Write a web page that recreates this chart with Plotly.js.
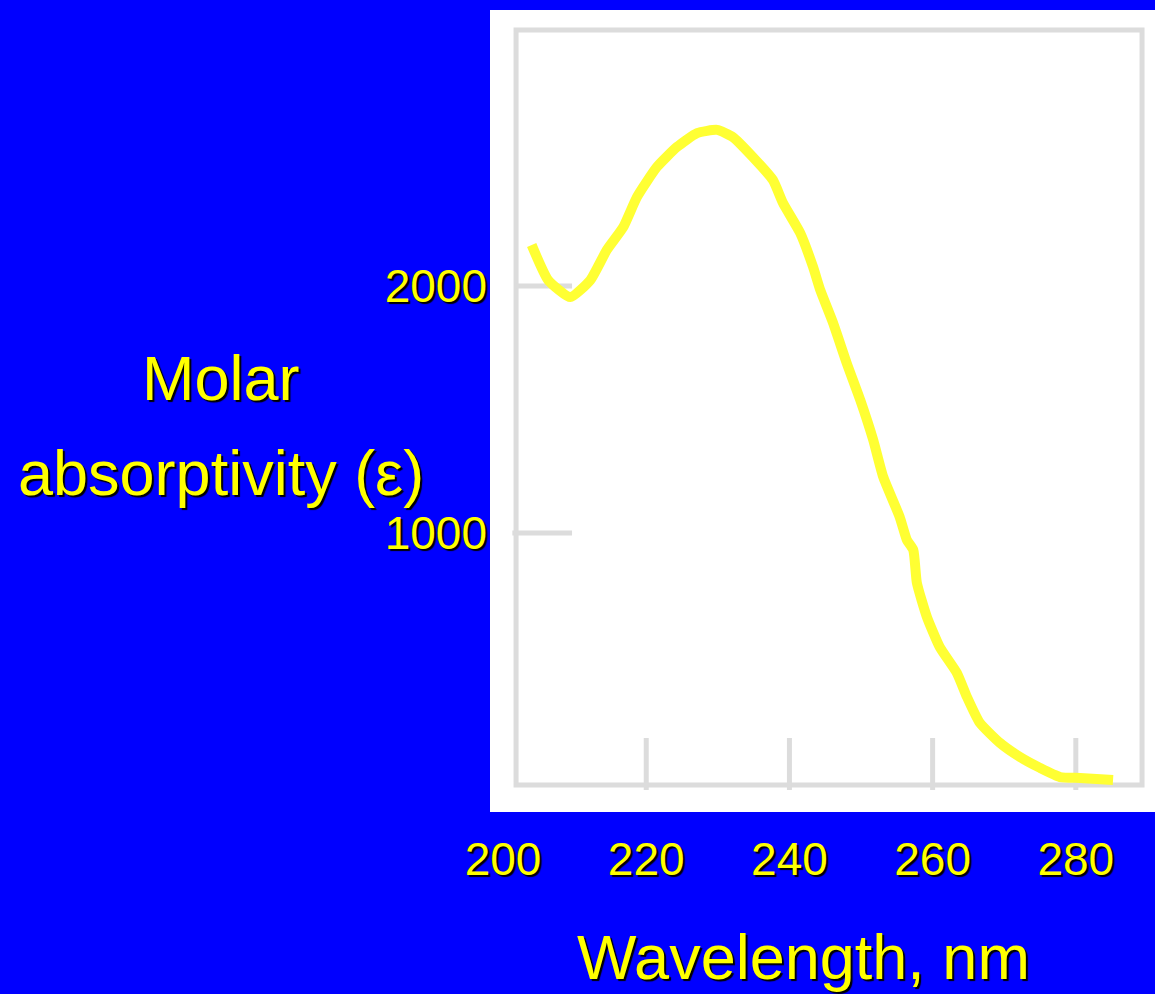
<!DOCTYPE html>
<html>
<head>
<meta charset="utf-8">
<script src="https://cdn.plot.ly/plotly-3.0.1.min.js"></script>
<style>
html,body{margin:0;padding:0;background:#0000ff;}
#chart{width:1155px;height:994px;}
</style>
</head>
<body>
<div id="chart"></div>
<script>
// Wavelength (nm)
var wavelength = [204.0, 206.3, 209.4, 212.2, 214.5, 216.8, 218.7, 221.5, 224.3, 227.1, 229.9, 232.1, 234.9, 237.7, 239.1, 241.5, 243.3, 244.3, 246.1, 248.0, 249.9, 251.7, 253.1, 255.4, 256.4, 257.3, 257.8, 259.2, 261.0, 263.4, 264.8, 266.6, 269.4, 272.2, 275.0, 277.8, 280.6, 285.2];
// Molar absorptivity (epsilon)
var epsilon = [2166, 2024, 1955, 2024, 2146, 2239, 2360, 2482, 2563, 2619, 2632, 2603, 2522, 2429, 2336, 2215, 2077, 1984, 1850, 1688, 1538, 1377, 1227, 1065, 972, 931, 798, 660, 538, 433, 336, 231, 150, 93, 49, 12, 8, 0];

var xTickVals = [200, 220, 240, 260, 280];
var xTickText = ['200', '220', '240', '260', '280'];
var yTickVals = [1000, 2000];
var yTickText = ['1000', '2000'];

var xTitle = 'Wavelength, nm';
var yTitleLine1 = 'Molar';
var yTitleLine2 = 'absorptivity (\u03b5)';

var FONT = '"Liberation Sans", Arial, sans-serif';
var YEL = '#ffff00';
var SHADOW = '2px 2px 1px #000000';
var GRAY = '#dcdcdc';

var trace = {
  x: wavelength,
  y: epsilon,
  type: 'scatter',
  mode: 'lines',
  line: {color: '#ffff33', width: 10, shape: 'spline', smoothing: 0.5},
  hoverinfo: 'skip'
};

var shapes = [
  // frame
  {type: 'rect', xref: 'x', yref: 'y', x0: 201.82, x1: 289.25, y0: -20.2, y1: 3036.4,
   line: {color: GRAY, width: 5}, layer: 'below'}
];
// horizontal tick marks
yTickVals.forEach(function (v) {
  shapes.push({type: 'line', xref: 'x', yref: 'y', x0: v === 1000 ? 201.3 : 201.82, x1: 209.64, y0: v, y1: v,
    line: {color: GRAY, width: 5}, layer: 'below'});
});
// vertical tick marks
xTickVals.slice(1).forEach(function (v) {
  shapes.push({type: 'line', xref: 'x', yref: 'y', x0: v, x1: v, y0: -40.5, y1: 170,
    line: {color: GRAY, width: 5}, layer: 'below'});
});

var layout = {
  width: 1155,
  height: 994,
  paper_bgcolor: '#0000ff',
  plot_bgcolor: '#ffffff',
  margin: {l: 490, r: 0, t: 10, b: 182, pad: 0},
  showlegend: false,
  font: {family: FONT, color: YEL},
  xaxis: {
    range: [198.18, 291.06],
    showgrid: false, zeroline: false, showline: false,
    tickmode: 'array', tickvals: xTickVals, ticktext: xTickText,
    ticks: 'outside', ticklen: 7, tickcolor: 'rgba(0,0,0,0)',
    tickfont: {family: FONT, size: 46, color: YEL, shadow: SHADOW},
    fixedrange: true
  },
  yaxis: {
    range: [-129.6, 3117.4],
    showgrid: false, zeroline: false, showline: false,
    tickmode: 'array', tickvals: yTickVals, ticktext: yTickText,
    ticks: '', ticklabelstandoff: 2,
    tickfont: {family: FONT, size: 46, color: YEL, shadow: SHADOW},
    fixedrange: true
  },
  shapes: shapes,
  annotations: [
    {text: yTitleLine1, xref: 'paper', yref: 'paper', x: -0.4045, y: 0.5411,
     xanchor: 'center', yanchor: 'middle', showarrow: false,
     font: {family: FONT, size: 63, color: YEL, shadow: SHADOW}},
    {text: yTitleLine2, xref: 'paper', yref: 'paper', x: -0.4045, y: 0.4227,
     xanchor: 'center', yanchor: 'middle', showarrow: false,
     font: {family: FONT, size: 63, color: YEL, shadow: SHADOW}},
    {text: xTitle, xref: 'paper', yref: 'paper', x: 0.4707, y: -0.181,
     xanchor: 'center', yanchor: 'middle', showarrow: false,
     font: {family: FONT, size: 63, color: YEL, shadow: SHADOW}}
  ]
};

Plotly.newPlot('chart', [trace], layout, {staticPlot: true, displayModeBar: false});
</script>
</body>
</html>
